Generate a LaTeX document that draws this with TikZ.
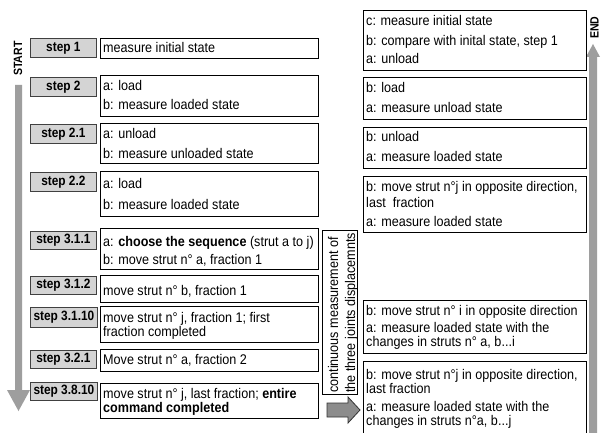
\documentclass[tikz,border=0pt]{standalone}
\usepackage{fontspec}
\setmainfont{Liberation Sans}
\newfontfamily\reffont{Liberation Sans}[FakeStretch=0.9]
\newfontfamily\stepfont{Liberation Sans}[FakeStretch=0.88]
\usetikzlibrary{shadows}
\definecolor{arrowgray}{HTML}{9E9E9E}
\definecolor{stepfill}{HTML}{D4D4D4}
\tikzset{
  textbox/.style={draw=black, line width=0.9pt, fill=white, rectangle, inner sep=0pt, anchor=north west},
  stepbox/.style={draw=black!75, line width=0.8pt, fill=stepfill, rectangle, inner sep=0pt, anchor=north west,
     drop shadow={shadow xshift=1pt, shadow yshift=-1pt, fill=black!70, opacity=1},
     font=\stepfont\fontsize{13.5}{16}\selectfont\bfseries},
  txt/.style={inner sep=0pt, anchor=base west, font=\reffont\fontsize{14}{16}\selectfont},
  sidelabel/.style={inner sep=0pt, anchor=base west, rotate=90, font=\stepfont\fontsize{12}{14}\selectfont\bfseries},
  bigarrow/.style={fill=arrowgray, draw=none},
  blockarrow/.style={fill=black!45, draw=black!80, line width=0.8pt},
}
\begin{document}
\begin{tikzpicture}[x=1pt,y=-1pt]
\useasboundingbox (0,0) rectangle (602,433);
\fill[white] (0,0) rectangle (602,433);

% ---- left big arrow (START) ----
\fill[bigarrow] (15,85) -- (22,85) -- (22,390) -- (30,390) -- (18.5,411) -- (7,390) -- (15,390) -- cycle;
\node[sidelabel] (start) at (22,76) {START};

% ---- right big arrow (END) ----
\fill[bigarrow] (589,440) -- (589,57) -- (586,57) -- (593,44) -- (600,57) -- (597,57) -- (597,440) -- cycle;
\node[sidelabel] (end) at (598.5,39) {END};

% ---- step labels ----
\node[stepbox, minimum width=66pt, minimum height=19pt] (s1) at (30,38) {step 1};
\node[stepbox, minimum width=66pt, minimum height=19pt] (s2) at (30,77) {step 2};
\node[stepbox, minimum width=66pt, minimum height=19pt] (s21) at (30,124) {step 2.1};
\node[stepbox, minimum width=66pt, minimum height=19pt] (s22) at (30,172) {step 2.2};
\node[stepbox, minimum width=66pt, minimum height=18pt] (s311) at (30,231) {step 3.1.1};
\node[stepbox, minimum width=66pt, minimum height=18pt] (s312) at (30,276) {step 3.1.2};
\node[stepbox, minimum width=67pt, minimum height=20pt] (s3110) at (30,307) {step 3.1.10};
\node[stepbox, minimum width=66pt, minimum height=18pt] (s321) at (30,350) {step 3.2.1};
\node[stepbox, minimum width=67pt, minimum height=18pt] (s3810) at (30,382) {step 3.8.10};

% ---- left text boxes ----
\node[textbox, minimum width=218pt, minimum height=20pt] (t1) at (100,38) {};
\node[txt] (t1a) at (103,53) {measure initial state};

\node[textbox, minimum width=218pt, minimum height=41pt] (t2) at (100,75) {};
\node[txt] (t2a) at (103,91) {a: load};
\node[txt] (t2b) at (103,110) {b: measure loaded state};

\node[textbox, minimum width=218pt, minimum height=40pt] (t21) at (100,123) {};
\node[txt] (t21a) at (103,139) {a: unload};
\node[txt] (t21b) at (103,158) {b: measure unloaded state};

\node[textbox, minimum width=218pt, minimum height=45pt] (t22) at (100,171) {};
\node[txt] (t22a) at (103,188) {a: load};
\node[txt] (t22b) at (103,209) {b: measure loaded state};

\node[textbox, minimum width=218pt, minimum height=41pt] (t311) at (100,228) {};
\node[txt] (t311a) at (103,246) {a: \textbf{choose the sequence} (strut a to j)};
\node[txt] (t311b) at (103,264) {b: move strut n° a, fraction 1};

\node[textbox, minimum width=218pt, minimum height=27pt] (t312) at (100,275) {};
\node[txt] (t312a) at (103,295) {move strut n° b, fraction 1};

\node[textbox, minimum width=218pt, minimum height=36pt] (t3110) at (100,306) {};
\node[txt] (t3110a) at (103,322) {move strut n° j, fraction 1; first};
\node[txt] (t3110b) at (103,336) {fraction completed};

\node[textbox, minimum width=218pt, minimum height=22pt] (t321) at (100,349) {};
\node[txt] (t321a) at (103,364) {Move strut n° a, fraction 2};

\node[textbox, minimum width=218pt, minimum height=35pt] (t3810) at (100,383) {};
\node[txt] (t3810a) at (103,398) {move strut n° j, last fraction; \textbf{entire}};
\node[txt] (t3810b) at (103,412) {\textbf{command completed}};

% ---- middle box ----
\node[textbox, minimum width=35pt, minimum height=164pt] (mid) at (322,230) {};
\node[txt, rotate=90] (mida) at (338,393) {continuous measurement of};
\node[txt, rotate=90] (midb) at (355,393) {the three joints displacemnts};

% ---- block arrow to the right ----
\filldraw[blockarrow] (327,403) -- (348,403) -- (348,397) -- (360,410) -- (348,423) -- (348,417) -- (327,417) -- cycle;

% ---- right text boxes ----
\node[textbox, minimum width=223pt, minimum height=60pt] (r1) at (363,10) {};
\node[txt] (r1a) at (366,26) {c: measure initial state};
\node[txt] (r1b) at (366,46) {b: compare with inital state, step 1};
\node[txt] (r1c) at (366,64) {a: unload};

\node[textbox, minimum width=223pt, minimum height=42pt] (r2) at (363,77) {};
\node[txt] (r2a) at (366,93) {b: load};
\node[txt] (r2b) at (366,113) {a: measure unload state};

\node[textbox, minimum width=223pt, minimum height=41pt] (r3) at (363,127) {};
\node[txt] (r3a) at (366,142) {b: unload};
\node[txt] (r3b) at (366,161) {a: measure loaded state};

\node[textbox, minimum width=223pt, minimum height=56pt] (r4) at (363,176) {};
\node[txt] (r4a) at (366,191) {b: move strut n°j in opposite direction,};
\node[txt] (r4b) at (366,207) {last \ fraction};
\node[txt] (r4c) at (366,226) {a: measure loaded state};

\node[textbox, minimum width=223pt, minimum height=53pt] (r5) at (363,300) {};
\node[txt] (r5a) at (366,315) {b: move strut n° i in opposite direction};
\node[txt] (r5b) at (366,332) {a: measure loaded state with the};
\node[txt] (r5c) at (366,346) {changes in struts n° a, b...i};

\node[textbox, minimum width=223pt, minimum height=80pt] (r6) at (363,361) {};
\node[txt] (r6a) at (366,379) {b: move strut n°j in opposite direction,};
\node[txt] (r6b) at (366,393) {last fraction};
\node[txt] (r6c) at (366,411) {a: measure loaded state with the};
\node[txt] (r6d) at (366,425) {changes in struts n°a, b...j};
\end{tikzpicture}
\end{document}
